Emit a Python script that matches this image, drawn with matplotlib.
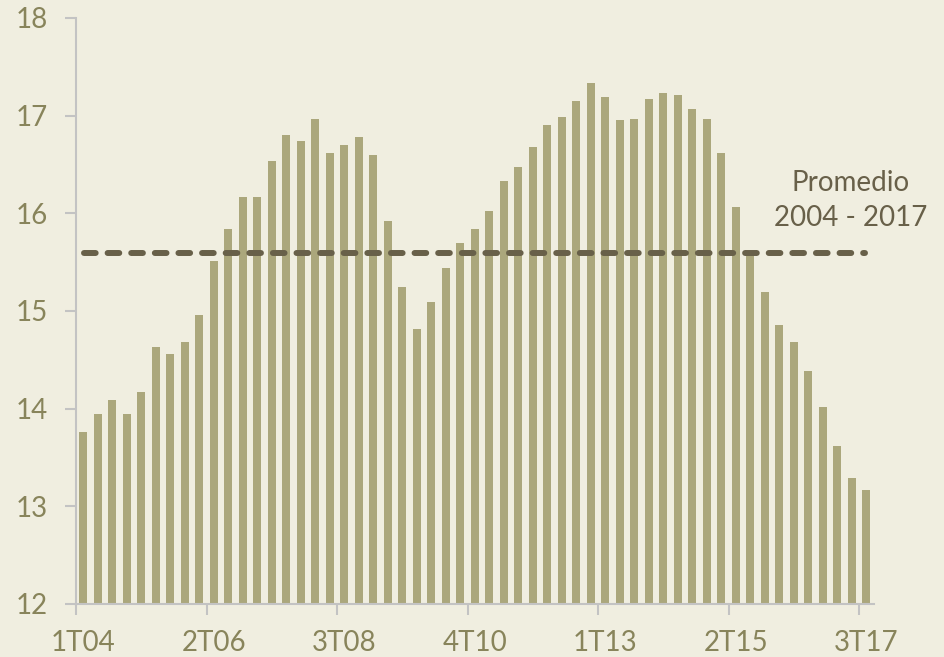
import numpy as np
import matplotlib
matplotlib.use("Agg")
import matplotlib.pyplot as plt

# quarterly series 1T04 .. 3T17
quarters = [f"{q}T{y % 100:02d}" for y in range(2004, 2018) for q in range(1, 5)][:55]
values = [13.76, 13.94, 14.09, 13.94, 14.17, 14.63, 14.56, 14.68, 14.96, 15.51,
          15.84, 16.17, 16.17, 16.54, 16.80, 16.74, 16.97, 16.62, 16.70, 16.78,
          16.60, 15.92, 15.25, 14.82, 15.09, 15.44, 15.70, 15.84, 16.02, 16.33,
          16.47, 16.68, 16.90, 16.99, 17.15, 17.33, 17.19, 16.95, 16.97, 17.17,
          17.23, 17.21, 17.07, 16.97, 16.62, 16.06, 15.59, 15.19, 14.86, 14.68,
          14.39, 14.02, 13.62, 13.29, 13.17]
promedio = 15.59
label_every = 9

bg = '#f0eee0'
bar_color = '#aba77c'
line_color = '#686049'
tick_color = '#88845b'
spine_color = '#c3c3c3'

plt.rcParams['font.family'] = ['Lato', 'DejaVu Sans']

fig = plt.figure(figsize=(9.44, 6.57), dpi=100, facecolor=bg)
ax = fig.add_axes([0.0805, 0.0807, 0.845, 0.892], facecolor=bg)

x = np.arange(len(values))
ax.bar(x, values, width=0.55, color=bar_color, zorder=2)

lw = 4.3
ax.plot([0.05, 53.9], [promedio, promedio], color=line_color, lw=lw,
        dashes=(8.4 / lw, 8.6 / lw), dash_capstyle='round', zorder=3)

ax.text(52.9, 16.44, "Promedio\n2004 - 2017", ha='center', va='top',
        fontsize=20, color=line_color, linespacing=1.42)

ax.set_xlim(-0.5, len(values) - 0.5)
ax.set_ylim(12, 18)
ax.set_yticks(range(12, 19))

# tick marks sit between categories, labels at category centres
ax.set_xticks(x[::label_every] - 0.5)
ax.set_xticklabels([])
ax.set_xticks(x[::label_every], minor=True)
ax.set_xticklabels([quarters[i] for i in x[::label_every]], minor=True)

ax.tick_params(axis='x', which='major', length=8, width=1.5, color=spine_color)
ax.tick_params(axis='x', which='minor', length=0, pad=19, labelsize=20,
               labelcolor=tick_color)
ax.tick_params(axis='y', length=8, width=1.5, color=spine_color, pad=12,
               labelsize=20, labelcolor=tick_color)

for s in ['top', 'right']:
    ax.spines[s].set_visible(False)
for s in ['left', 'bottom']:
    ax.spines[s].set_color(spine_color)
    ax.spines[s].set_linewidth(1.5)

fig.savefig("out.png", dpi=100, facecolor=bg)
